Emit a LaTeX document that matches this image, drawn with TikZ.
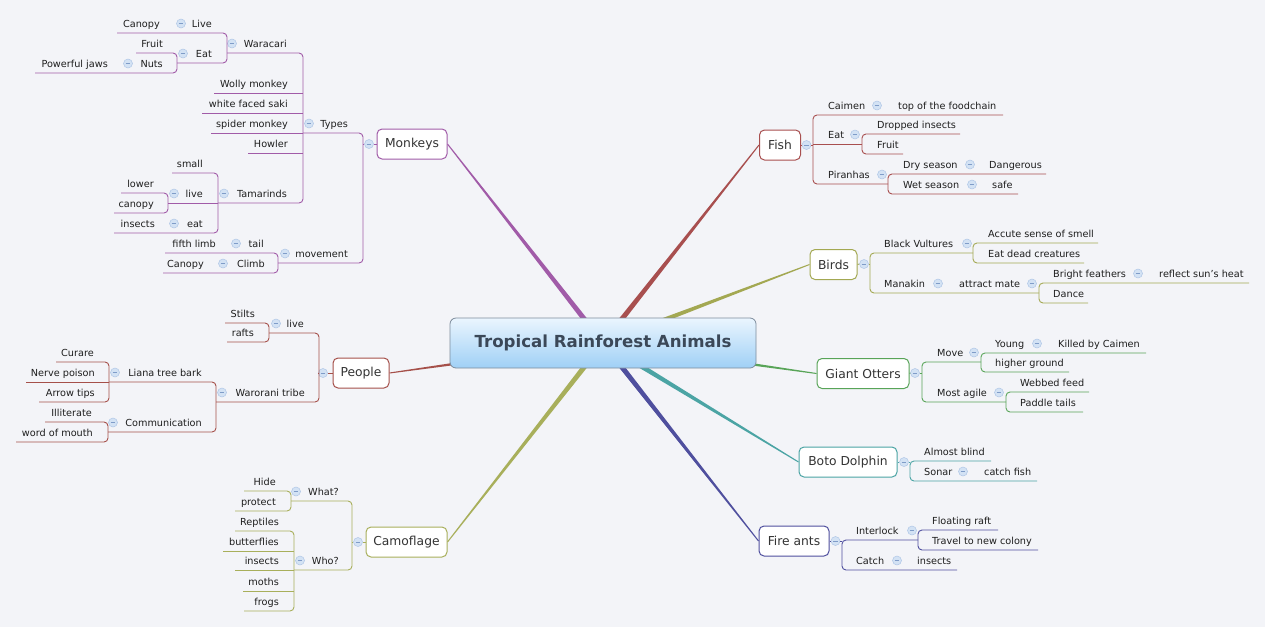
\documentclass[tikz,border=0pt]{standalone}
\usepackage{fontspec}
\setmainfont{DejaVu Sans}
\usetikzlibrary{calc,backgrounds}
\definecolor{bgc}{HTML}{F3F4F8}
\definecolor{leaf}{HTML}{1E1E1E}
\definecolor{topictext}{HTML}{333333}
\definecolor{monk}{HTML}{A15BA8}
\definecolor{fishc}{HTML}{A84F4F}
\definecolor{bird}{HTML}{A3A852}
\definecolor{otter}{HTML}{58A458}
\definecolor{dolph}{HTML}{4BA4A4}
\definecolor{ant}{HTML}{4F4F9E}
\definecolor{camo}{HTML}{A8AF5B}
\definecolor{peop}{HTML}{A5504A}
\definecolor{togfill}{HTML}{D3E2F4}
\definecolor{togline}{HTML}{AFC6E6}
\definecolor{togminus}{HTML}{7F9CC8}
\definecolor{rootTop}{HTML}{EAF5FE}
\definecolor{rootBot}{HTML}{9FD0F6}
\definecolor{rootLine}{HTML}{7D8C9C}
\definecolor{rootText}{HTML}{3B4858}
\tikzset{
 tx/.style={inner sep=0pt, font=\fontsize{9.7}{11}\selectfont, text=leaf},
 txR/.style={tx, anchor=base west},
 txL/.style={tx, anchor=base east},
 topic/.style={draw=#1, line width=1pt, rounded corners=5pt, fill=white, minimum height=30pt, inner sep=0pt, font=\fontsize{12.3}{14}\selectfont, text=topictext},
 tog/.style={circle, minimum size=9pt, inner sep=0pt, fill=togfill, draw=togline, line width=0.5pt,
   path picture={\draw[togminus, line width=0.9pt] ([xshift=2.2pt]path picture bounding box.west) -- ([xshift=-2.2pt]path picture bounding box.east);}},
 rootbox/.style={rounded corners=6pt, minimum width=306pt, minimum height=50pt, top color=rootTop, bottom color=rootBot, draw=rootLine, line width=0.8pt, font=\fontsize{16.6}{20}\selectfont\bfseries, text=rootText},
 br/.style={line width=0.9pt, color=#1},
}
\newcommand{\grp}[3]{\draw[rounded corners=4pt] (#2) -- (#2 -| #1) -- (#3 -| #1) -- (#3);}
\newcommand{\kid}[2]{\draw (#2) -- (#2 -| #1);}
\newcommand{\taper}[3]{\fill[#1] ($(#2)!2.8pt!90:(#3)$) -- ($(#3)!0.5pt!-90:(#2)$) -- ($(#3)!0.5pt!90:(#2)$) -- ($(#2)!2.8pt!-90:(#3)$) -- cycle;}
\begin{document}
\begin{tikzpicture}[x=1pt,y=-1pt]
\useasboundingbox (0,0) rectangle (1265,627);
% root and topics
\node[rootbox] (root) at (603,343) {Tropical Rainforest Animals};
\node[topic=monk, minimum width=70pt] (monkeys) at (412,144) {Monkeys};
\node[topic=peop, minimum width=56pt] (people) at (361,373) {People};
\node[topic=camo, minimum width=81pt] (camo) at (406.5,542) {Camoflage};
\node[topic=fishc, minimum width=41pt] (fish) at (780,145) {Fish};
\node[topic=bird, minimum width=47pt] (birds) at (833.5,264.5) {Birds};
\node[topic=otter, minimum width=92pt] (otters) at (863,373.5) {Giant Otters};
\node[topic=dolph, minimum width=98pt] (dolphin) at (848,462) {Boto Dolphin};
\node[topic=ant, minimum width=70pt] (ants) at (794,541) {Fire ants};
\node[tog] (monkeys-o) at (369,144) {};
\node[tog] (people-o) at (323,373) {};
\node[tog] (camo-o) at (358,542) {};
\node[tog] (fish-o) at (806.5,145) {};
\node[tog] (birds-o) at (864,264) {};
\node[tog] (otters-o) at (915,373) {};
\node[tog] (dolphin-o) at (904,462) {};
\node[tog] (ants-o) at (835.5,541) {};
\coordinate (monk-s) at (363,144);
\coordinate (people-s) at (319,373);
\coordinate (camo-s) at (352,542);
\coordinate (fish-s) at (813,145);
\coordinate (birds-s) at (870,264);
\coordinate (otters-s) at (922,373);
\coordinate (dolph-s) at (910,462);
\coordinate (ants-s) at (842,541);
% Monkeys
\node[txL] (types) at (348,127) {Types};
\node[tog] (types-o) at (309,123.5) {};
\coordinate (types-s) at (303,133);
\node[txL] (waracari) at (287,47) {Waracari};
\node[tog] (waracari-o) at (232,43.5) {};
\coordinate (waracari-s) at (227,53);
\node[txL] (livew) at (212,27) {Live};
\node[tog] (livew-o) at (181,23.5) {};
\node[txL] (canopyw) at (160,27) {Canopy};
\coordinate (livew-u) at (117,33);
\node[txL] (eatw) at (212,57) {Eat};
\node[tog] (eatw-o) at (183,53.5) {};
\coordinate (eatw-s) at (177,63);
\node[txL] (fruitw) at (163,47) {Fruit};
\coordinate (fruitw-u) at (136,53);
\node[txL] (nuts) at (163,67) {Nuts};
\node[tog] (nuts-o) at (128,63.5) {};
\node[txL] (jaws) at (108,67) {Powerful jaws};
\coordinate (nuts-u) at (35,73);
\node[txL] (wolly) at (288,87) {Wolly monkey};
\coordinate (wolly-u) at (214,93);
\node[txL] (saki) at (288,107) {white faced saki};
\coordinate (saki-u) at (202,113);
\node[txL] (spider) at (288,127) {spider monkey};
\coordinate (spider-u) at (211,133);
\node[txL] (howler) at (288,147) {Howler};
\coordinate (howler-u) at (248,153);
\node[txL] (tam) at (287,197) {Tamarinds};
\node[tog] (tam-o) at (224,193.5) {};
\coordinate (tam-s) at (218,203);
\node[txL] (small) at (203,167) {small};
\coordinate (small-u) at (172,173);
\node[txL] (livet) at (203,197) {live};
\node[tog] (livet-o) at (174,193.5) {};
\coordinate (livet-s) at (168,203);
\node[txL] (lower) at (154,187) {lower};
\coordinate (lower-u) at (121,193);
\node[txL] (canopyt) at (154,207) {canopy};
\coordinate (canopyt-u) at (114,213);
\node[txL] (eatt) at (203,227) {eat};
\node[tog] (eatt-o) at (174,223.5) {};
\node[txL] (insectst) at (155,227) {insects};
\coordinate (eatt-u) at (114,233);
\node[txL] (movement) at (348,257) {movement};
\node[tog] (movement-o) at (285,253.5) {};
\coordinate (movement-s) at (278,263);
\node[txL] (tail) at (264,247) {tail};
\node[tog] (tail-o) at (236,243.5) {};
\node[txL] (fifth) at (216,247) {fifth limb};
\coordinate (tail-u) at (165,253);
\node[txL] (climb) at (265,267) {Climb};
\node[tog] (climb-o) at (223,263.5) {};
\node[txL] (canopyc) at (204,267) {Canopy};
\coordinate (climb-u) at (163,273);
% People
\node[txL] (livep) at (304,327) {live};
\node[tog] (livep-o) at (276,323.5) {};
\coordinate (livep-s) at (269,333);
\node[txL] (stilts) at (255,317) {Stilts};
\coordinate (stilts-u) at (225,323);
\node[txL] (rafts) at (254,336) {rafts};
\coordinate (rafts-u) at (227,342);
\node[txL] (warorani) at (305,396) {Warorani tribe};
\node[tog] (warorani-o) at (222,392.5) {};
\coordinate (war-s) at (216,402);
\node[txL] (liana) at (202,376) {Liana tree bark};
\node[tog] (liana-o) at (115,372.5) {};
\coordinate (liana-s) at (109,382);
\node[txL] (curare) at (94,356) {Curare};
\coordinate (curare-u) at (56,362);
\node[txL] (nerve) at (95,376) {Nerve poison};
\coordinate (nerve-u) at (26,382);
\node[txL] (arrow) at (95,396) {Arrow tips};
\coordinate (arrow-u) at (39,402);
\node[txL] (comm) at (202,426) {Communication};
\node[tog] (comm-o) at (113,422.5) {};
\coordinate (comm-s) at (108,432);
\node[txL] (illit) at (92,416) {Illiterate};
\coordinate (illit-u) at (45,422);
\node[txL] (mouth) at (93,436) {word of mouth};
\coordinate (mouth-u) at (16,442);
% Camoflage
\node[txL] (what) at (339,495) {What?};
\node[tog] (what-o) at (296,491.5) {};
\coordinate (what-s) at (291,501);
\node[txL] (hide) at (276,485) {Hide};
\coordinate (hide-u) at (244,491);
\node[txL] (protect) at (276,505) {protect};
\coordinate (protect-u) at (235,511);
\node[txL] (who) at (339,564) {Who?};
\node[tog] (who-o) at (300,560.5) {};
\coordinate (who-s) at (294,570);
\node[txL] (reptiles) at (279,525) {Reptiles};
\coordinate (reptiles-u) at (235,531);
\node[txL] (butter) at (279,545) {butterflies};
\coordinate (butter-u) at (223,551);
\node[txL] (insectsc) at (279,564) {insects};
\coordinate (insectsc-u) at (235,570);
\node[txL] (moths) at (279,585) {moths};
\coordinate (moths-u) at (243,591);
\node[txL] (frogs) at (279,605) {frogs};
\coordinate (frogs-u) at (244,611);
% Fish
\node[txR] (caimen) at (828,109) {Caimen};
\node[tog] (caimen-o) at (877,105.5) {};
\node[txR] (foodchain) at (898,109) {top of the foodchain};
\coordinate (caimen-u) at (1003,115);
\node[txR] (eatf) at (828,138) {Eat};
\node[tog] (eatf-o) at (855,134.5) {};
\coordinate (eatf-s) at (862,144);
\node[txR] (dropped) at (877,128) {Dropped insects};
\coordinate (dropped-u) at (960,134);
\node[txR] (fruitf) at (877,148) {Fruit};
\coordinate (fruitf-u) at (903,154);
\node[txR] (piranhas) at (828,178) {Piranhas};
\node[tog] (piranhas-o) at (882,174.5) {};
\coordinate (pir-s) at (888,184);
\node[txR] (dry) at (903,168) {Dry season};
\node[tog] (dry-o) at (970,164.5) {};
\node[txR] (danger) at (989,168) {Dangerous};
\coordinate (dry-u) at (1046,174);
\node[txR] (wet) at (903,188) {Wet season};
\node[tog] (wet-o) at (972,184.5) {};
\node[txR] (safe) at (992,188) {safe};
\coordinate (wet-u) at (1018,194);
% Birds
\node[txR] (bv) at (884,247) {Black Vultures};
\node[tog] (bv-o) at (967,243.5) {};
\coordinate (bv-s) at (973,253);
\node[txR] (accute) at (988,237) {Accute sense of smell};
\coordinate (accute-u) at (1098,243);
\node[txR] (eatdead) at (988,257) {Eat dead creatures};
\coordinate (eatdead-u) at (1084,263);
\node[txR] (manakin) at (884,287) {Manakin};
\node[tog] (manakin-o) at (938,283.5) {};
\node[txR] (attract) at (959,287) {attract mate};
\node[tog] (attract-o) at (1032,283.5) {};
\coordinate (man-s) at (1039,293);
\node[txR] (bright) at (1053,277) {Bright feathers};
\node[tog] (bright-o) at (1138,273.5) {};
\node[txR] (reflect) at (1159,277) {reflect sun's heat};
\coordinate (bright-u) at (1249,283);
\node[txR] (dance) at (1053,297) {Dance};
\coordinate (dance-u) at (1088,303);
% Giant Otters
\node[txR] (move) at (937,356) {Move};
\node[tog] (move-o) at (974,352.5) {};
\coordinate (move-s) at (981,362);
\node[txR] (young) at (995,347) {Young};
\node[tog] (young-o) at (1037,343.5) {};
\node[txR] (killed) at (1058,347) {Killed by Caimen};
\coordinate (young-u) at (1146,353);
\node[txR] (higher) at (995,366) {higher ground};
\coordinate (higher-u) at (1069,372);
\node[txR] (agile) at (937,396) {Most agile};
\node[tog] (agile-o) at (999,392.5) {};
\coordinate (agile-s) at (1006,402);
\node[txR] (webbed) at (1020,386) {Webbed feed};
\coordinate (webbed-u) at (1089,392);
\node[txR] (paddle) at (1020,406) {Paddle tails};
\coordinate (paddle-u) at (1083,412);
% Boto Dolphin
\node[txR] (blind) at (924,455) {Almost blind};
\coordinate (blind-u) at (991,461);
\node[txR] (sonar) at (924,475) {Sonar};
\node[tog] (sonar-o) at (963,471.5) {};
\node[txR] (catch) at (984,475) {catch fish};
\coordinate (sonar-u) at (1037,481);
% Fire ants
\node[txR] (interlock) at (856,534) {Interlock};
\node[tog] (interlock-o) at (912,530.5) {};
\coordinate (int-s) at (918,540);
\node[txR] (floating) at (932,524) {Floating raft};
\coordinate (floating-u) at (998,530);
\node[txR] (travel) at (932,544) {Travel to new colony};
\coordinate (travel-u) at (1038,550);
\node[txR] (catchA) at (856,564) {Catch};
\node[tog] (catchA-o) at (897,560.5) {};
\node[txR] (insectsA) at (917,564) {insects};
\coordinate (catchA-u) at (957,570);
% background and main tapered connectors
\begin{pgfonlayer}{background}
\fill[bgc] (0,0) rectangle (1265,627);
\taper{monk}{root.center}{monkeys.east}
\taper{peop}{root.center}{people.east}
\taper{camo}{root.center}{camo.east}
\taper{fishc}{root.center}{fish.west}
\taper{bird}{root.center}{birds.west}
\taper{otter}{root.center}{otters.west}
\taper{dolph}{root.center}{dolphin.west}
\taper{ant}{root.center}{ants.west}
\end{pgfonlayer}
% branch connectors
\begin{scope}[br=monk]
\draw (monkeys.west) -- (monkeys-o.east); \draw (monkeys-o.west) -- (monk-s);
\grp{monk-s}{types-s}{movement-s}
\grp{types-s}{waracari-s}{tam-s}
\kid{types-s}{wolly-u} \kid{types-s}{saki-u} \kid{types-s}{spider-u} \kid{types-s}{howler-u}
\grp{waracari-s}{livew-u}{eatw-s}
\grp{eatw-s}{fruitw-u}{nuts-u}
\grp{tam-s}{small-u}{eatt-u}
\kid{tam-s}{livet-s}
\grp{livet-s}{lower-u}{canopyt-u}
\grp{movement-s}{tail-u}{climb-u}
\end{scope}
\begin{scope}[br=peop]
\draw (people.west) -- (people-o.east); \draw (people-o.west) -- (people-s);
\grp{people-s}{livep-s}{war-s}
\grp{livep-s}{stilts-u}{rafts-u}
\grp{war-s}{liana-s}{comm-s}
\grp{liana-s}{curare-u}{arrow-u} \kid{liana-s}{nerve-u}
\grp{comm-s}{illit-u}{mouth-u}
\end{scope}
\begin{scope}[br=camo]
\draw (camo.west) -- (camo-o.east); \draw (camo-o.west) -- (camo-s);
\grp{camo-s}{what-s}{who-s}
\grp{what-s}{hide-u}{protect-u}
\grp{who-s}{reptiles-u}{frogs-u}
\kid{who-s}{butter-u} \kid{who-s}{insectsc-u} \kid{who-s}{moths-u}
\end{scope}
\begin{scope}[br=fishc]
\draw (fish.east) -- (fish-o.west); \draw (fish-o.east) -- (fish-s);
\grp{fish-s}{caimen-u}{pir-s} \kid{fish-s}{eatf-s}
\grp{eatf-s}{dropped-u}{fruitf-u}
\grp{pir-s}{dry-u}{wet-u}
\end{scope}
\begin{scope}[br=bird]
\draw (birds.east) -- (birds-o.west); \draw (birds-o.east) -- (birds-s);
\grp{birds-s}{bv-s}{man-s}
\grp{bv-s}{accute-u}{eatdead-u}
\grp{man-s}{bright-u}{dance-u}
\end{scope}
\begin{scope}[br=otter]
\draw (otters.east) -- (otters-o.west); \draw (otters-o.east) -- (otters-s);
\grp{otters-s}{move-s}{agile-s}
\grp{move-s}{young-u}{higher-u}
\grp{agile-s}{webbed-u}{paddle-u}
\end{scope}
\begin{scope}[br=dolph]
\draw (dolphin.east) -- (dolphin-o.west); \draw (dolphin-o.east) -- (dolph-s);
\grp{dolph-s}{blind-u}{sonar-u}
\end{scope}
\begin{scope}[br=ant]
\draw (ants.east) -- (ants-o.west); \draw (ants-o.east) -- (ants-s);
\grp{ants-s}{int-s}{catchA-u}
\grp{int-s}{floating-u}{travel-u}
\end{scope}
\end{tikzpicture}
\end{document}
